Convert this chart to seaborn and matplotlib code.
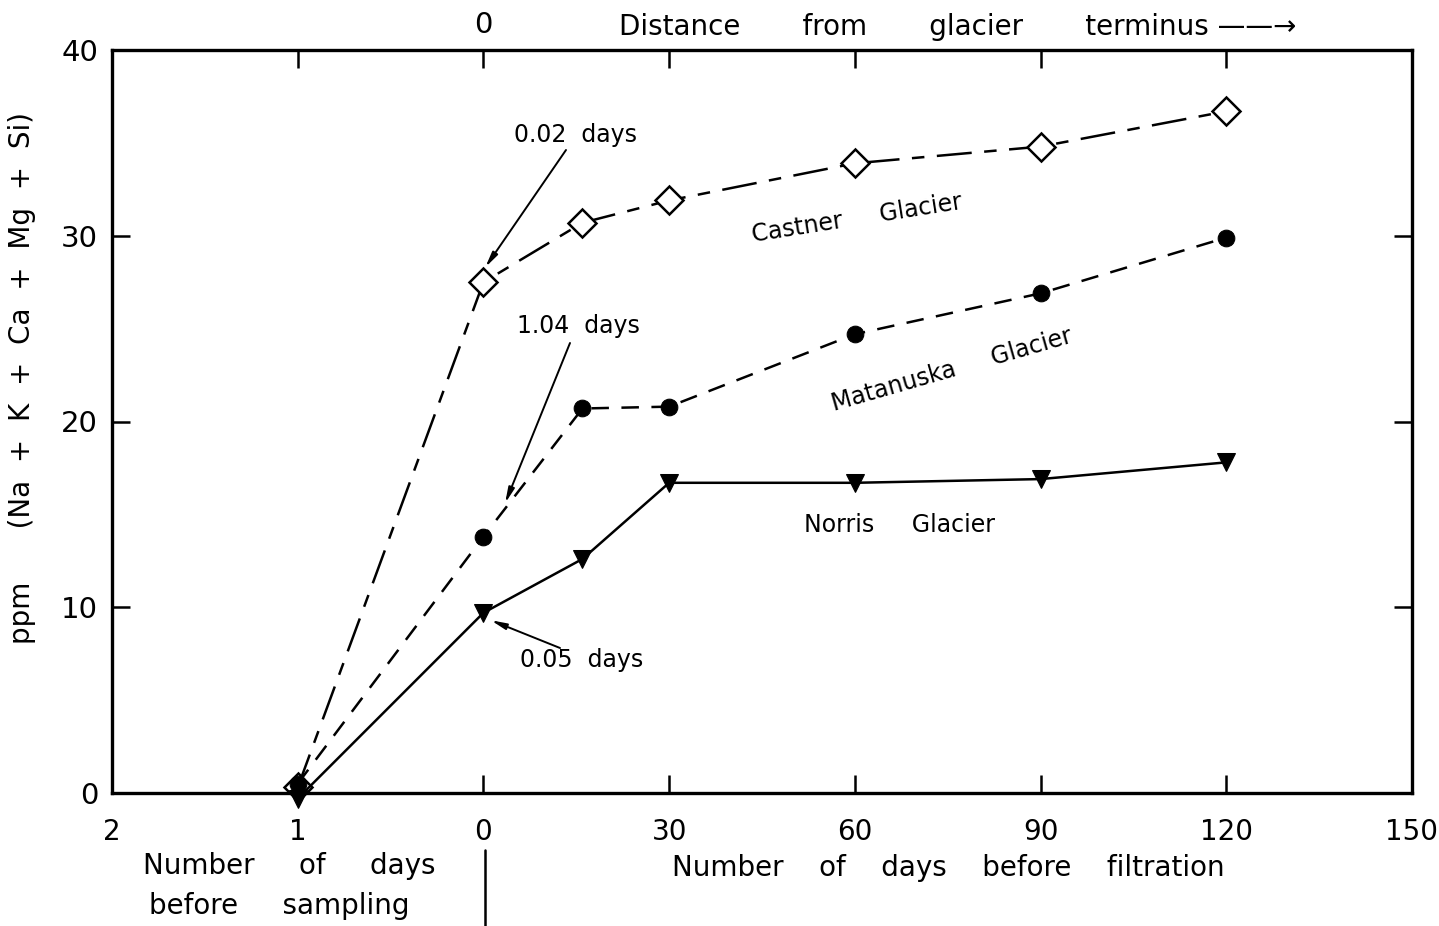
import numpy as np
import pandas as pd
import seaborn as sns
import matplotlib.pyplot as plt
import matplotlib.transforms as mtransforms

# x: negative = days before sampling, positive = days before filtration
x_days = [-1, 0, 16, 30, 60, 90, 120]
castner = [0.3, 27.5, 30.7, 31.9, 33.9, 34.8, 36.7]
matanuska = [0.5, 13.8, 20.7, 20.8, 24.7, 26.9, 29.9]
norris = [-0.3, 9.7, 12.6, 16.7, 16.7, 16.9, 17.8]

xticks = [-2, -1, 0, 30, 60, 90, 120, 150]
xticklabels = ['2', '1', '0', '30', '60', '90', '120', '150']

sns.set_style('ticks')
plt.rcParams['font.family'] = ['DejaVu Sans']
plt.rcParams['text.color'] = 'black'

fig = plt.figure(figsize=(14.39, 9.26), dpi=100)
ax = fig.add_axes([112 / 1439, 133 / 926, 1300 / 1439, 743 / 926])


def fwd(x):
    x = np.asarray(x, dtype=float)
    return np.where(x < 0, x * 30, x)


def inv(y):
    y = np.asarray(y, dtype=float)
    return np.where(y < 0, y / 30, y)


ax.set_xscale('function', functions=(fwd, inv))

df = pd.DataFrame({'x': x_days, 'Castner': castner,
                   'Matanuska': matanuska, 'Norris': norris})

sns.lineplot(data=df, x='x', y='Castner', ax=ax, color='black', lw=1.8,
             linestyle=(0, (14, 5, 5, 5)), marker='D', markersize=14,
             markerfacecolor='white', markeredgecolor='black',
             markeredgewidth=1.8, errorbar=None, clip_on=False, zorder=4)
sns.lineplot(data=df, x='x', y='Matanuska', ax=ax, color='black', lw=1.8,
             linestyle=(0, (7, 5)), marker='o', markersize=12,
             markerfacecolor='black', markeredgecolor='black',
             errorbar=None, clip_on=False, zorder=4)
sns.lineplot(data=df, x='x', y='Norris', ax=ax, color='black', lw=1.8,
             linestyle='-', marker='v', markersize=13,
             markerfacecolor='black', markeredgecolor='black',
             errorbar=None, clip_on=False, zorder=4)

ax.set_xlim(-2, 150)
ax.set_ylim(0, 40)
ax.set_xticks(xticks)
ax.set_xticklabels(xticklabels, fontsize=20)
ax.set_yticks([0, 10, 20, 30, 40])
ax.set_yticklabels(['0', '10', '20', '30', '40'], fontsize=21)
ax.set_xlabel('')
ax.set_ylabel('')
ax.tick_params(axis='both', direction='in', length=13, width=1.8,
               colors='black', top=True, right=True)
ax.tick_params(axis='x', pad=18)
ax.tick_params(axis='y', pad=10)

# top "0" label at the glacier terminus
trans = mtransforms.blended_transform_factory(ax.transData, fig.transFigure)
ax.text(0, 1 - 25 / 926, '0', transform=trans, fontsize=21,
        ha='center', va='center')

for s in ax.spines.values():
    s.set_linewidth(2.4)
    s.set_color('black')

# annotations
arrow = dict(arrowstyle='-|>,head_width=0.18,head_length=0.9', color='black',
             lw=1.4, shrinkA=0, shrinkB=0)
ax.annotate('', xy=(0.3, 28.3), xycoords='data',
            xytext=(566, 926 - 150), textcoords='figure pixels', arrowprops=arrow)
ax.annotate('', xy=(3.5, 15.6), xycoords='data',
            xytext=(570, 926 - 343), textcoords='figure pixels', arrowprops=arrow)
ax.annotate('', xy=(1.2, 9.3), xycoords='data',
            xytext=(560, 926 - 648), textcoords='figure pixels', arrowprops=arrow)

fs = 17
fig.text(575 / 1439, 1 - 135 / 926, '0.02  days', fontsize=fs, ha='center', va='center')
fig.text(578 / 1439, 1 - 326 / 926, '1.04  days', fontsize=fs, ha='center', va='center')
fig.text(582 / 1439, 1 - 660 / 926, '0.05  days', fontsize=fs, ha='center', va='center')

fig.text(857 / 1439, 1 - 218 / 926, 'Castner     Glacier', fontsize=fs,
         ha='center', va='center', rotation=9, rotation_mode='anchor')
fig.text(952 / 1439, 1 - 370 / 926, 'Matanuska     Glacier', fontsize=fs,
         ha='center', va='center', rotation=16, rotation_mode='anchor')
fig.text(900 / 1439, 1 - 525 / 926, 'Norris     Glacier', fontsize=fs,
         ha='center', va='center')

fig.text(958 / 1439, 1 - 27 / 926,
         'Distance       from       glacier       terminus \u2014\u2014\u2192',
         fontsize=20, ha='center', va='center')

fig.text(289 / 1439, 1 - 866 / 926, 'Number     of     days', fontsize=20,
         ha='center', va='center')
fig.text(279 / 1439, 1 - 906 / 926, 'before     sampling', fontsize=20,
         ha='center', va='center')
fig.text(948 / 1439, 1 - 868 / 926, 'Number    of    days    before    filtration',
         fontsize=20, ha='center', va='center')
fig.add_artist(plt.Line2D([485 / 1439, 485 / 1439], [1 - 850 / 926, 0.0],
                          color='black', lw=1.8))

fig.text(22 / 1439, 1 - 378 / 926, 'ppm      (Na  +  K  +  Ca  +  Mg  +  Si)',
         fontsize=20, ha='center', va='center', rotation=90)

fig.savefig('out.png', dpi=100, facecolor='white')
